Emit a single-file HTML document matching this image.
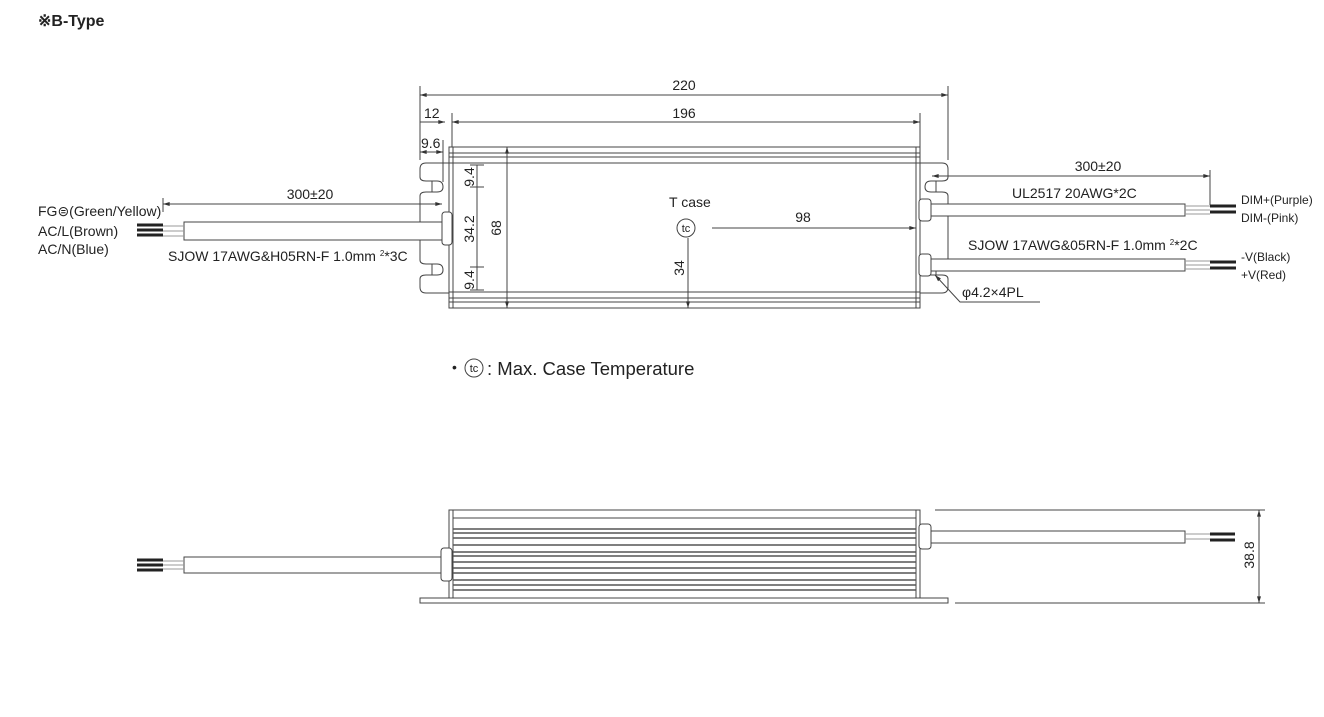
<!DOCTYPE html>
<html><head><meta charset="utf-8"><style>
html,body{margin:0;padding:0;background:#fff;}
svg{display:block;}
text{font-family:"Liberation Sans",sans-serif;fill:#222;}
</style></head><body>
<svg width="1324" height="717" viewBox="0 0 1324 717" xmlns="http://www.w3.org/2000/svg">
<defs>
<marker id="a" viewBox="0 0 10 6" refX="10" refY="3" markerWidth="8" markerHeight="4" orient="auto-start-reverse"><path d="M0,0L10,3L0,6z" fill="#333"/></marker>
</defs>
<text x="38" y="26" font-size="16" font-weight="bold">※B-Type</text>

<g stroke="#444" stroke-width="1" fill="none">
<rect x="449" y="147" width="471" height="161" fill="#fff"/>
<line x1="453" y1="147" x2="453" y2="308"/><line x1="916" y1="147" x2="916" y2="308"/>
<line x1="449" y1="153" x2="920" y2="153"/><line x1="449" y1="157" x2="920" y2="157"/>
<line x1="449" y1="163" x2="920" y2="163"/>
<line x1="449" y1="292" x2="920" y2="292"/><line x1="449" y1="298" x2="920" y2="298"/><line x1="449" y1="302" x2="920" y2="302"/>
<path d="M449,163 H426 Q420,163 420,169 V177 Q420,181 426,181 H437 Q443,181 443,187 Q443,192 437,192 H426 Q420,192 420,196 V260 Q420,264 426,264 H437 Q443,264 443,270 Q443,275 437,275 H426 Q420,275 420,279 V287 Q420,293 426,293 H449"/>
<line x1="432" y1="181" x2="432" y2="192"/><line x1="432" y1="264" x2="432" y2="275"/>
<path d="M920,163 H942 Q948,163 948,169 V177 Q948,181 942,181 H931 Q925,181 925,187 Q925,192 931,192 H942 Q948,192 948,196 V260 Q948,264 942,264 H931 Q925,264 925,270 Q925,275 931,275 H942 Q948,275 948,279 V287 Q948,293 942,293 H920"/>
<line x1="936" y1="181" x2="936" y2="192"/><line x1="936" y1="264" x2="936" y2="275"/>
<rect x="442" y="212" width="10" height="33" rx="3" fill="#fff"/>
<rect x="184" y="222" width="258" height="18" fill="#fff"/>
<rect x="919" y="199" width="12" height="22" rx="3" fill="#fff"/>
<rect x="919" y="254" width="12" height="22" rx="3" fill="#fff"/>
<rect x="931" y="204" width="254" height="12" fill="#fff"/>
<rect x="931" y="259" width="254" height="12" fill="#fff"/>
<path d="M1185,206 H1210 M1185,210 H1210 M1185,214 H1210 M1185,261 H1210 M1185,265 H1210 M1185,269 H1210" stroke="#999"/>
<path d="M163,226 H184 M163,231 H184 M163,236 H184" stroke="#999"/>

<line x1="420" y1="86" x2="420" y2="160"/><line x1="948" y1="86" x2="948" y2="160"/>
<line x1="420" y1="95" x2="948" y2="95" marker-start="url(#a)" marker-end="url(#a)"/>
<line x1="452" y1="113" x2="452" y2="147"/><line x1="920" y1="113" x2="920" y2="147"/>
<line x1="452" y1="122" x2="920" y2="122" marker-start="url(#a)" marker-end="url(#a)"/>
<line x1="420" y1="122" x2="445" y2="122" marker-end="url(#a)"/>
<line x1="443" y1="140" x2="443" y2="182"/>
<line x1="420" y1="152" x2="443" y2="152" marker-start="url(#a)" marker-end="url(#a)"/>
<line x1="507" y1="147" x2="507" y2="308" marker-start="url(#a)" marker-end="url(#a)"/>
<line x1="477" y1="165" x2="477" y2="290"/>
<line x1="470" y1="165" x2="484" y2="165"/><line x1="470" y1="187" x2="484" y2="187"/>
<line x1="470" y1="267" x2="484" y2="267"/><line x1="470" y1="290" x2="484" y2="290"/>
<line x1="712" y1="228" x2="916" y2="228" marker-end="url(#a)"/>
<line x1="688" y1="238" x2="688" y2="308" marker-end="url(#a)"/>
<circle cx="686" cy="228" r="9"/>
<line x1="163" y1="198" x2="163" y2="212"/>
<line x1="163" y1="204" x2="442" y2="204" marker-start="url(#a)" marker-end="url(#a)"/>
<line x1="1210" y1="170" x2="1210" y2="205"/>
<line x1="932" y1="176" x2="1210" y2="176" marker-start="url(#a)" marker-end="url(#a)"/>
<path d="M1040,302 H960 L935,275" marker-end="url(#a)"/>

<circle cx="474" cy="368" r="9"/>

<rect x="449" y="510" width="471" height="88" fill="#fff"/>
<line x1="453" y1="510" x2="453" y2="598"/><line x1="916" y1="510" x2="916" y2="598"/>
<line x1="453" y1="518" x2="916" y2="518"/>
<rect x="420" y="598" width="528" height="5"/>
<rect x="441" y="548" width="11" height="33" rx="3" fill="#fff"/>
<rect x="184" y="557" width="257" height="16" fill="#fff"/>
<rect x="919" y="524" width="12" height="25" rx="3" fill="#fff"/>
<rect x="931" y="531" width="254" height="12" fill="#fff"/>
<path d="M1185,534 H1210 M1185,539 H1210 M163,561 H184 M163,565 H184 M163,569 H184" stroke="#999"/>
<line x1="935" y1="510" x2="1265" y2="510"/><line x1="955" y1="603" x2="1265" y2="603"/>
<line x1="1259" y1="510" x2="1259" y2="603" marker-start="url(#a)" marker-end="url(#a)"/>
</g>
<g stroke="#555" stroke-width="1.6">
<line x1="453" y1="529" x2="916" y2="529"/><line x1="453" y1="533" x2="916" y2="533"/>
<line x1="453" y1="538" x2="916" y2="538"/><line x1="453" y1="545" x2="916" y2="545"/>
<line x1="453" y1="552" x2="916" y2="552"/><line x1="453" y1="556" x2="916" y2="556"/>
<line x1="453" y1="562" x2="916" y2="562"/><line x1="453" y1="568" x2="916" y2="568"/>
<line x1="453" y1="573" x2="916" y2="573"/><line x1="453" y1="580" x2="916" y2="580"/>
<line x1="453" y1="585" x2="916" y2="585"/><line x1="453" y1="590" x2="916" y2="590"/>
</g>
<g stroke="#222" stroke-width="3">
<path d="M137,225 H163 M137,230 H163 M137,235 H163"/>
<path d="M1210,206 H1236 M1210,212 H1236 M1210,262 H1236 M1210,268 H1236"/>
<path d="M137,560 H163 M137,565 H163 M137,570 H163"/>
<path d="M1210,534 H1235 M1210,540 H1235"/>
</g>

<g font-size="14">
<text x="684" y="90" text-anchor="middle">220</text>
<text x="684" y="118" text-anchor="middle">196</text>
<text x="424" y="118">12</text>
<text x="421" y="148">9.6</text>
<text x="669" y="207">T case</text>
<text x="686" y="232" text-anchor="middle" font-size="11">tc</text>
<text x="803" y="222" text-anchor="middle">98</text>
<text x="310" y="199" text-anchor="middle">300±20</text>
<text x="1098" y="171" text-anchor="middle">300±20</text>
<text x="1012" y="198">UL2517 20AWG*2C</text>
<text x="968" y="250">SJOW 17AWG&amp;05RN-F 1.0mm <tspan font-size="8" dy="-5">2</tspan><tspan dy="5">*2C</tspan></text>
<text x="168" y="261">SJOW 17AWG&amp;H05RN-F 1.0mm <tspan font-size="8" dy="-5">2</tspan><tspan dy="5">*3C</tspan></text>
<text x="38" y="216">FG⊜(Green/Yellow)</text>
<text x="38" y="236">AC/L(Brown)</text>
<text x="38" y="254">AC/N(Blue)</text>
<text x="962" y="297">φ4.2×4PL</text>
<text transform="translate(474,229) rotate(-90)" text-anchor="middle">34.2</text>
<text transform="translate(501,228) rotate(-90)" text-anchor="middle">68</text>
<text transform="translate(474,177) rotate(-90)" text-anchor="middle">9.4</text>
<text transform="translate(474,280) rotate(-90)" text-anchor="middle">9.4</text>
<text transform="translate(684,268) rotate(-90)" text-anchor="middle">34</text>
<text transform="translate(1254,555) rotate(-90)" text-anchor="middle">38.8</text>
</g>
<g font-size="12">
<text x="1241" y="204">DIM+(Purple)</text>
<text x="1241" y="222">DIM-(Pink)</text>
<text x="1241" y="261">-V(Black)</text>
<text x="1241" y="279">+V(Red)</text>
</g>
<text x="452" y="372" font-size="14">•</text>
<text x="474" y="372" text-anchor="middle" font-size="11">tc</text>
<text x="487" y="375" font-size="18.5">: Max. Case Temperature</text>
</svg>
</body></html>
